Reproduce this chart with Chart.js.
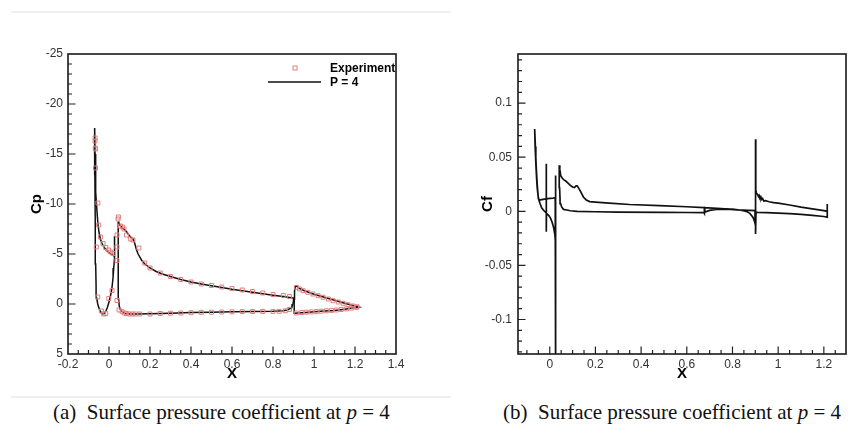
<!DOCTYPE html>
<html><head><meta charset="utf-8">
<script src="https://cdn.jsdelivr.net/npm/chart.js@4.4.0/dist/chart.umd.min.js"></script>
<style>
html,body{margin:0;padding:0;background:#fff;width:853px;height:437px;overflow:hidden;position:relative}
canvas{position:absolute;top:0}
#cA{left:0}
#cB{left:440px}
.rule{position:absolute;left:11px;width:440px;height:2px;background:#efefef}
.cap{position:absolute;font-family:"Liberation Serif","Times New Roman",serif;font-size:21px;line-height:21px;white-space:nowrap;color:#111}
</style></head><body>
<div class="rule" style="top:11px"></div>
<div class="rule" style="top:396px"></div>
<canvas id="cA" width="440" height="380"></canvas>
<canvas id="cB" width="413" height="380"></canvas>
<div class="cap" id="capA" style="left:53px;top:402px">(a)&nbsp; Surface pressure coefficient at <i>p</i> = 4</div>
<div class="cap" id="capB" style="left:503px;top:402px">(b)&nbsp; Surface pressure coefficient at <i>p</i> = 4</div>
<script>
// ---------- Panel (a): Cp ----------
const CP_X_TICKS = [-0.2, 0, 0.2, 0.4, 0.6, 0.8, 1, 1.2, 1.4];
const CP_X_LABELS = ["-0.2", "0", "0.2", "0.4", "0.6", "0.8", "1", "1.2", "1.4"];
const CP_Y_TICKS = [-25, -20, -15, -10, -5, 0, 5];
const CP_Y_LABELS = ["-25", "-20", "-15", "-10", "-5", "0", "5"];

const SLAT_X = [-0.070,-0.068,-0.066,-0.064,-0.061,-0.057,-0.053,-0.048,-0.042,-0.035,-0.028,-0.020,-0.010,0.000,0.010,0.020,0.027,0.029,
                0.027,0.025,0.023,0.020,0.016,0.012,0.006,0.000,-0.008,-0.016,-0.024,-0.030,-0.037,-0.045,-0.052,-0.055,-0.060,-0.063,-0.065,-0.067,-0.069,-0.070];
const SLAT_CP = [-17.6,-15.0,-12.8,-11.2,-10.0,-8.8,-7.8,-7.1,-6.5,-6.1,-5.8,-5.55,-5.3,-5.15,-5.0,-4.85,-4.75,-6.8,
                 -5.8,-4.6,-3.6,-2.7,-1.9,-1.3,-0.7,-0.2,0.35,0.75,0.97,1.0,0.9,0.65,0.2,0.0,-0.6,-1.8,-4.0,-8.0,-13.0,-17.6];

const MAIN_X = [0.044,0.048,0.055,0.065,0.075,0.085,0.095,0.105,0.113,0.118,0.125,0.133,0.141,0.150,0.160,0.175,0.200,0.230,0.260,0.300,0.350,0.400,0.450,0.500,0.550,0.600,0.650,0.700,0.750,0.800,0.850,0.890,0.902,
                0.900,0.897,0.893,0.885,0.870,0.850,0.800,0.700,0.600,0.500,0.400,0.300,0.200,0.130,0.100,0.080,0.065,0.055,0.050,0.047,0.046,0.045,0.044];
const MAIN_CP = [-8.25,-8.1,-7.85,-7.6,-7.45,-7.25,-6.95,-6.7,-6.55,-6.5,-6.1,-5.5,-5.05,-4.7,-4.35,-4.0,-3.6,-3.25,-3.0,-2.75,-2.45,-2.2,-2.0,-1.82,-1.66,-1.48,-1.33,-1.18,-1.02,-0.88,-0.75,-0.63,-0.6,
                 -0.3,0.0,0.25,0.45,0.6,0.67,0.72,0.75,0.78,0.82,0.86,0.92,0.97,1.0,1.0,0.95,0.8,0.55,0.2,-0.5,-2.5,-5.5,-8.25];

const FLAP_X = [0.903,0.905,0.909,0.914,0.920,0.930,0.950,0.970,1.000,1.050,1.100,1.150,1.190,1.218,
                1.200,1.150,1.100,1.050,1.000,0.960,0.920,0.907,0.904,0.903];
const FLAP_CP = [-0.5,-1.3,-1.75,-1.8,-1.7,-1.55,-1.35,-1.2,-0.97,-0.68,-0.38,-0.08,0.15,0.3,
                 0.35,0.52,0.64,0.71,0.78,0.84,0.9,0.92,0.7,-0.5];

const EXP_X = [-0.068,-0.068,-0.067,-0.066,-0.066,-0.062,-0.054,-0.050,-0.042,-0.029,-0.016,-0.002,0.008,0.020,-0.055,-0.037,-0.026,-0.016,-0.001,0.015,
               0.044,0.046,0.039,0.039,0.039,0.039,0.049,0.056,0.066,0.073,0.085,0.104,0.117,0.146,0.174,0.200,0.250,0.300,0.350,0.400,0.450,0.500,0.550,0.600,0.650,0.700,0.750,0.800,0.850,0.880,
               0.064,0.075,0.085,0.100,0.115,0.130,0.150,0.200,0.250,0.300,0.350,0.400,0.450,0.500,0.550,0.600,0.650,0.700,0.750,0.800,0.830,0.860,0.880,
               0.914,0.930,0.947,0.970,0.995,1.020,1.044,1.070,1.093,1.118,1.142,1.166,1.190,1.210,
               0.914,0.940,0.963,0.987,1.011,1.035,1.060,1.085,1.109,1.133,1.158,1.182,1.207];
const EXP_CP = [-16.6,-16.3,-15.6,-15.5,-13.6,-5.7,-10.1,-7.9,-6.7,-6.05,-5.65,-5.4,-5.2,-5.05,-0.7,0.7,1.0,0.95,-0.55,-1.35,
                -8.5,-8.7,-6.9,-5.7,-4.35,-0.35,0.6,-7.8,-7.7,-7.5,-6.9,-6.5,-6.4,-5.6,-4.1,-3.6,-3.1,-2.75,-2.45,-2.2,-2.0,-1.85,-1.7,-1.55,-1.4,-1.25,-1.1,-0.95,-0.85,-0.75,
                0.77,0.9,0.95,1.0,1.0,1.0,1.0,1.0,0.95,0.92,0.9,0.87,0.83,0.82,0.8,0.78,0.76,0.75,0.74,0.74,0.73,0.68,0.55,
                -1.67,-1.5,-1.33,-1.17,-1.0,-0.83,-0.67,-0.5,-0.33,-0.2,-0.07,0.07,0.2,0.28,
                0.9,0.85,0.82,0.79,0.76,0.72,0.68,0.64,0.6,0.55,0.49,0.42,0.33];

// ---------- Panel (b): Cf ----------
const CF_X_TICKS = [0, 0.2, 0.4, 0.6, 0.8, 1, 1.2];
const CF_X_LABELS = ["0", "0.2", "0.4", "0.6", "0.8", "1", "1.2"];
const CF_Y_TICKS = [-0.1, -0.05, 0, 0.05, 0.1];
const CF_Y_LABELS = ["-0.1", "-0.05", "0", "0.05", "0.1"];

const CF_SLAT_X = [-0.066,-0.064,-0.061,-0.058,-0.055,-0.051,-0.047,-0.040,-0.030,-0.015,0.000,0.015,0.024,0.026,0.026,
                   0.025,0.022,0.017,0.011,0.004,-0.004,-0.0145,-0.0146,-0.0146,-0.016,-0.025,-0.035,-0.043,-0.050,-0.055,-0.059,-0.063,-0.066];
const CF_SLAT = [0.076,0.060,0.045,0.032,0.022,0.014,0.0105,0.0105,0.011,0.0115,0.012,0.0122,0.0125,0.033,-0.15,
                 -0.030,-0.021,-0.015,-0.0105,-0.0065,-0.004,-0.002,0.044,-0.019,-0.0015,0.0005,0.003,0.0075,0.012,0.025,0.040,0.060,0.076];

const CF_MAIN_X = [0.041,0.044,0.048,0.055,0.062,0.070,0.080,0.090,0.100,0.108,0.115,0.120,0.128,0.138,0.148,0.160,0.175,0.200,0.260,0.350,0.480,0.600,0.676,0.750,0.820,0.900,
                   0.899,0.895,0.890,0.876,0.860,0.847,0.800,0.730,0.700,0.680,0.677,0.677,0.675,0.600,0.500,0.300,0.200,0.120,0.090,0.075,0.060,0.052,0.048,0.045,0.043,0.042,0.041];
const CF_MAIN = [0.0425,0.039,0.033,0.0305,0.029,0.028,0.026,0.024,0.0225,0.022,0.0235,0.0235,0.021,0.017,0.013,0.0105,0.009,0.0085,0.0075,0.0063,0.0052,0.0042,0.0034,0.0024,0.0014,0.0006,
                 -0.011,-0.0085,-0.0056,-0.0019,0.0,0.0006,0.0021,0.0018,0.0008,-0.0008,0.0043,-0.0019,-0.0012,-0.0011,-0.001,-0.0008,-0.0004,0.0,0.0005,0.0012,0.0018,0.004,0.007,0.012,0.022,0.033,0.0425];

const CF_FLAP_X = [0.901,0.902,0.905,0.910,0.914,0.917,0.920,0.924,0.928,0.932,0.937,0.945,0.960,0.980,1.000,1.050,1.100,1.150,1.200,1.215,1.215,1.215,
                   1.200,1.150,1.100,1.050,1.000,0.950,0.910,0.903,0.901,0.901];
const CF_FLAP = [0.0665,0.020,0.0166,0.0155,0.0135,0.0145,0.0125,0.0135,0.011,0.0118,0.0095,0.0098,0.0088,0.0081,0.0075,0.0058,0.0038,0.0022,0.0006,0.0,0.0068,-0.0055,
                 -0.0048,-0.0038,-0.0028,-0.0022,-0.0017,-0.0013,-0.001,-0.0008,-0.021,0.0665];

// ---------- helpers ----------
const pts = (xs, ys) => xs.map((x, i) => ({x: x, y: ys[i]}));
const range = (a, b, s) => { const r = []; for (let v = a; v <= b + 1e-9; v += s) r.push(+v.toFixed(4)); return r; };
const FONT = '"Liberation Sans", Arial, Helvetica, sans-serif';

function lineDS(label, xs, ys, w) {
  return {label: label, data: pts(xs, ys), showLine: true, borderColor: '#111', borderWidth: w,
          pointRadius: 0, fill: false, tension: 0, order: 2};
}

function framePlugin(cfg) {
  return {
    id: 'frame',
    afterDraw(chart) {
      const ctx = chart.ctx, a = chart.chartArea, xs = chart.scales.x, ys = chart.scales.y;
      ctx.save();
      ctx.strokeStyle = '#222';
      ctx.lineWidth = 1.2;
      ctx.beginPath();
      cfg.xMinor.forEach(v => { const p = xs.getPixelForValue(v); if (p > a.left + 1 && p < a.right - 1) { ctx.moveTo(p, a.bottom); ctx.lineTo(p, a.bottom - 4); } });
      cfg.xMajor.forEach(v => { const p = xs.getPixelForValue(v); if (p > a.left + 1 && p < a.right - 1) { ctx.moveTo(p, a.bottom); ctx.lineTo(p, a.bottom - 7.5); } });
      cfg.yMinor.forEach(v => { const p = ys.getPixelForValue(v); if (p > a.top + 1 && p < a.bottom - 1) { ctx.moveTo(a.left, p); ctx.lineTo(a.left + 4, p); } });
      cfg.yMajor.forEach(v => { const p = ys.getPixelForValue(v); if (p > a.top + 1 && p < a.bottom - 1) { ctx.moveTo(a.left, p); ctx.lineTo(a.left + 7.5, p); } });
      ctx.stroke();
      ctx.lineWidth = 1.6;
      ctx.strokeStyle = '#1a1a1a';
      ctx.strokeRect(a.left, a.top, a.right - a.left, a.bottom - a.top);
      // axis titles
      ctx.fillStyle = '#000';
      ctx.font = 'bold 15px ' + FONT;
      ctx.textAlign = 'center';
      ctx.textBaseline = 'middle';
      ctx.fillText(cfg.xTitle, (a.left + a.right) / 2, a.bottom + 20);
      ctx.save();
      ctx.translate(a.left - cfg.yTitleOff, (a.top + a.bottom) / 2);
      ctx.rotate(-Math.PI / 2);
      ctx.fillText(cfg.yTitle, 0, 0);
      ctx.restore();
      // legend
      if (cfg.legend) {
        const ds = chart.data.datasets;
        ctx.font = 'bold 12px ' + FONT;
        ctx.textAlign = 'left';
        ctx.fillStyle = '#000';
        ctx.strokeStyle = ds[0].borderColor;
        ctx.lineWidth = 1;
        ctx.strokeRect(293, 66, 4, 4);
        ctx.fillText(ds[0].label, 330, 68.5);
        ctx.strokeStyle = '#111';
        ctx.lineWidth = 1.5;
        ctx.beginPath(); ctx.moveTo(268, 82); ctx.lineTo(321, 82); ctx.stroke();
        ctx.fillText(ds[1].label, 330, 82.5);
      }
      ctx.restore();
    }
  };
}

function axes(xmin, xmax, ymin, ymax, xt, xl, yt, yl, yw, rev, ypad) {
  return {
    x: {type: 'linear', min: xmin, max: xmax,
        grid: {display: false, drawTicks: false, tickLength: 0}, border: {display: false},
        afterBuildTicks: s => { s.ticks = xt.map(v => ({value: v})); },
        afterFit: s => { s.height = 26; },
        ticks: {autoSkip: false, maxRotation: 0, padding: 3, color: '#333', font: {family: FONT, size: 12},
                callback: (v, i) => xl[i]}},
    y: {type: 'linear', min: ymin, max: ymax, reverse: rev,
        grid: {display: false, drawTicks: false, tickLength: 0}, border: {display: false},
        afterBuildTicks: s => { s.ticks = yt.map(v => ({value: v})); },
        afterFit: s => { s.width = yw; },
        ticks: {autoSkip: false, padding: ypad, color: '#333', font: {family: FONT, size: 12},
                callback: (v, i) => yl[i]}}
  };
}

// ---------- Chart A ----------
new Chart(document.getElementById('cA'), {
  type: 'scatter',
  data: {datasets: [
    {label: 'Experiment', data: pts(EXP_X, EXP_CP), showLine: false, pointStyle: 'rect', pointRadius: 2.8,
     borderColor: '#e07f7f', backgroundColor: 'rgba(0,0,0,0)', pointBorderWidth: 1, borderWidth: 1, order: 1},
    lineDS('P = 4', SLAT_X, SLAT_CP, 1.5),
    lineDS('P = 4 main', MAIN_X, MAIN_CP, 1.5),
    lineDS('P = 4 flap', FLAP_X, FLAP_CP, 1.5)
  ]},
  options: {
    responsive: false, animation: false, devicePixelRatio: 1,
    layout: {padding: {left: 0, top: 54, right: 44, bottom: 0}},
    plugins: {legend: {display: false}, tooltip: {enabled: false}},
    scales: axes(-0.2, 1.4, -25, 5, CP_X_TICKS, CP_X_LABELS, CP_Y_TICKS, CP_Y_LABELS, 68, true, 5)
  },
  plugins: [framePlugin({xMajor: CP_X_TICKS, xMinor: range(-0.2, 1.4, 0.05), yMajor: CP_Y_TICKS, yMinor: range(-25, 5, 1),
                         xTitle: 'X', yTitle: 'Cp', yTitleOff: 31, legend: true})]
});

// ---------- Chart B ----------
new Chart(document.getElementById('cB'), {
  type: 'scatter',
  data: {datasets: [
    lineDS('slat', CF_SLAT_X, CF_SLAT, 1.7),
    lineDS('main', CF_MAIN_X, CF_MAIN, 1.7),
    lineDS('flap', CF_FLAP_X, CF_FLAP, 1.7)
  ]},
  options: {
    responsive: false, animation: false, devicePixelRatio: 1,
    layout: {padding: {left: 0, top: 54, right: 7, bottom: 0}},
    plugins: {legend: {display: false}, tooltip: {enabled: false}},
    scales: axes(-0.139, 1.297, -0.1319, 0.1454, CF_X_TICKS, CF_X_LABELS, CF_Y_TICKS, CF_Y_LABELS, 78, false, 6)
  },
  plugins: [framePlugin({xMajor: CF_X_TICKS, xMinor: range(-0.1, 1.25, 0.05), yMajor: CF_Y_TICKS, yMinor: range(-0.13, 0.14, 0.01),
                         xTitle: 'X', yTitle: 'Cf', yTitleOff: 30, legend: false})]
});
</script>
</body></html>
